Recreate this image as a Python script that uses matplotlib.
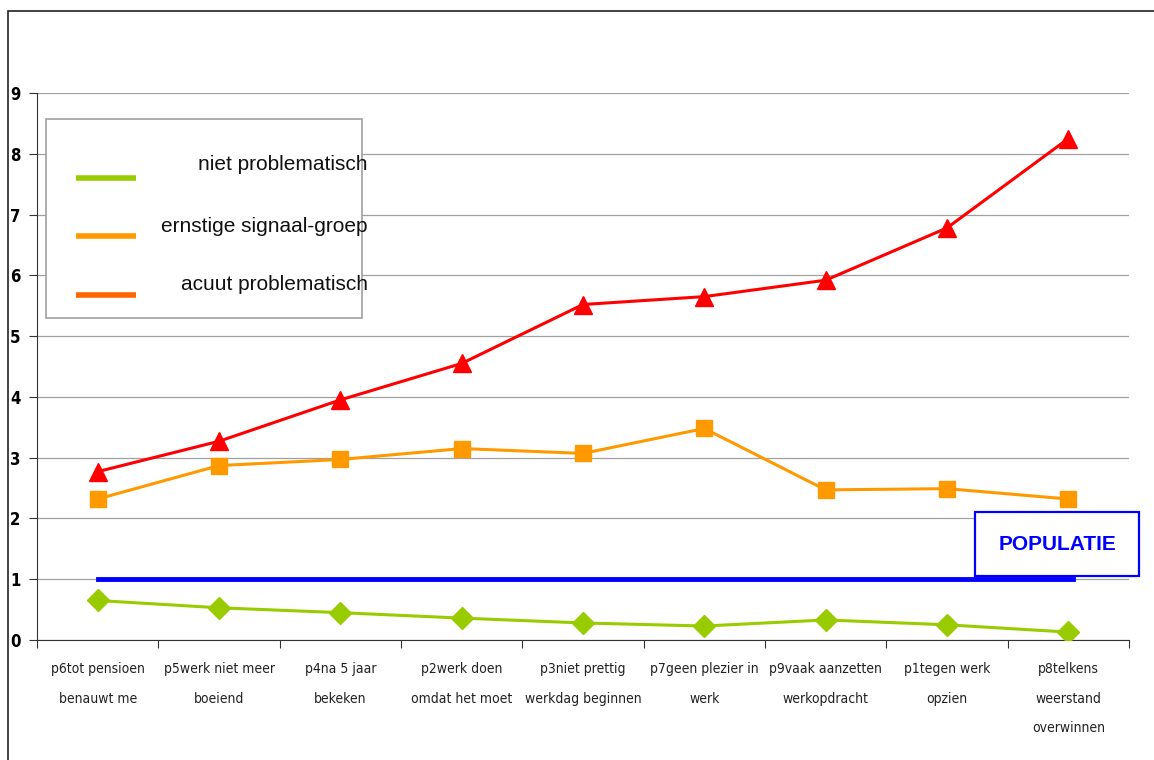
import numpy as np
import matplotlib.pyplot as plt
from matplotlib.patches import Rectangle
from matplotlib.lines import Line2D

# vragen (x-as), van links naar rechts
vragen = ["p6tot pensioen\nbenauwt me", "p5werk niet meer\nboeiend", "p4na 5 jaar\nbekeken",
          "p2werk doen\nomdat het moet", "p3niet prettig\nwerkdag beginnen", "p7geen plezier in\nwerk",
          "p9vaak aanzetten\nwerkopdracht", "p1tegen werk\nopzien", "p8telkens\nweerstand\noverwinnen"]

niet_problematisch = [0.65, 0.53, 0.45, 0.36, 0.28, 0.23, 0.33, 0.25, 0.13]
ernstige_signaal = [2.32, 2.87, 2.97, 3.15, 3.07, 3.48, 2.47, 2.49, 2.32]
acuut_problematisch = [2.77, 3.27, 3.95, 4.55, 5.52, 5.65, 5.92, 6.78, 8.25]
populatie = 1.0

groen = "#99CC00"
oranje = "#FF9900"
rood = "#FF0000"
legenda_rood = "#FF6600"
blauw = "#0000FF"

W, H = 1154, 760
fig = plt.figure(figsize=(W / 100, H / 100), dpi=100)
fig.patch.set_facecolor("white")

# kader rond de hele grafiek
fig.patches.append(Rectangle((8 / W, -0.1), 1.2, (H - 11) / H + 0.1, transform=fig.transFigure,
                             fill=False, edgecolor="#222222", linewidth=1.2))

ax = fig.add_axes([37 / W, (H - 640) / H, (1129 - 37) / W, (640 - 93) / H])
x = np.arange(len(vragen))

ax.plot(x, niet_problematisch, color=groen, lw=2.2, marker="D", ms=11, zorder=3)
ax.plot(x, ernstige_signaal, color=oranje, lw=2.2, marker="s", ms=12, zorder=3)
ax.plot(x, acuut_problematisch, color=rood, lw=2.2, marker="^", ms=13, zorder=3)
ax.plot([x[0], x[-1] + 0.04], [populatie, populatie], color=blauw, lw=3.5, zorder=2)

ax.set_xlim(-0.5, len(vragen) - 0.5)
ax.set_ylim(0, 9)
ax.set_yticks(range(10))
ax.yaxis.grid(True, color="#A0A0A0", lw=0.9)
ax.set_axisbelow(True)
for s in ["top", "right"]:
    ax.spines[s].set_visible(False)
ax.spines["left"].set_color("#333333")
ax.spines["bottom"].set_color("#333333")

# tickstreepjes tussen de categorieen, labels in het midden
ax.set_xticks(np.arange(len(vragen) + 1) - 0.5)
ax.set_xticklabels([])
ax.set_xticks(x, minor=True)
ax.set_xticklabels(vragen, minor=True, fontsize=10, family="DejaVu Sans", fontstretch="condensed",
                   linespacing=2.4, color="#222222", va="top")
ax.tick_params(axis="x", which="minor", length=0, pad=16)
ax.tick_params(axis="x", which="major", length=6, direction="out", color="#333333")
ax.tick_params(axis="y", length=6, direction="out", color="#333333", labelsize=12, pad=6)
for t in ax.get_yticklabels():
    t.set_family("DejaVu Sans")
    t.set_fontstretch("condensed")
    t.set_fontweight("bold")

# legenda
lx0, ly0, lx1, ly1 = 46, 119, 362, 318
fig.patches.append(Rectangle((lx0 / W, (H - ly1) / H), (lx1 - lx0) / W, (ly1 - ly0) / H,
                             transform=fig.transFigure, facecolor="white", edgecolor="#A0A0A0",
                             lw=1.2, zorder=5))
items = [("niet problematisch", groen, 178, 165), ("ernstige signaal-groep", oranje, 236, 226),
         ("acuut problematisch", legenda_rood, 295, 285)]
for label, kleur, ylijn, ytekst in items:
    fig.lines.append(Line2D([76 / W, 136 / W], [(H - ylijn) / H] * 2, transform=fig.transFigure,
                            color=kleur, lw=4, solid_capstyle="butt", zorder=6))
    fig.text(368 / W, (H - ytekst) / H, label, ha="right", va="center", fontsize=15,
             family="Liberation Sans", color="#111111", zorder=6)

# populatie-label
px0, py0, px1, py1 = 975, 512, 1139, 576
fig.patches.append(Rectangle((px0 / W, (H - py1) / H), (px1 - px0) / W, (py1 - py0) / H,
                             transform=fig.transFigure, facecolor="white", edgecolor=blauw,
                             lw=1.6, zorder=5))
fig.text((px0 + px1) / 2 / W, (H - (py0 + py1) / 2) / H, "POPULATIE", ha="center", va="center",
         fontsize=15, fontweight="bold", family="Liberation Sans", color=blauw, zorder=6)

fig.savefig("out.png", dpi=100)
